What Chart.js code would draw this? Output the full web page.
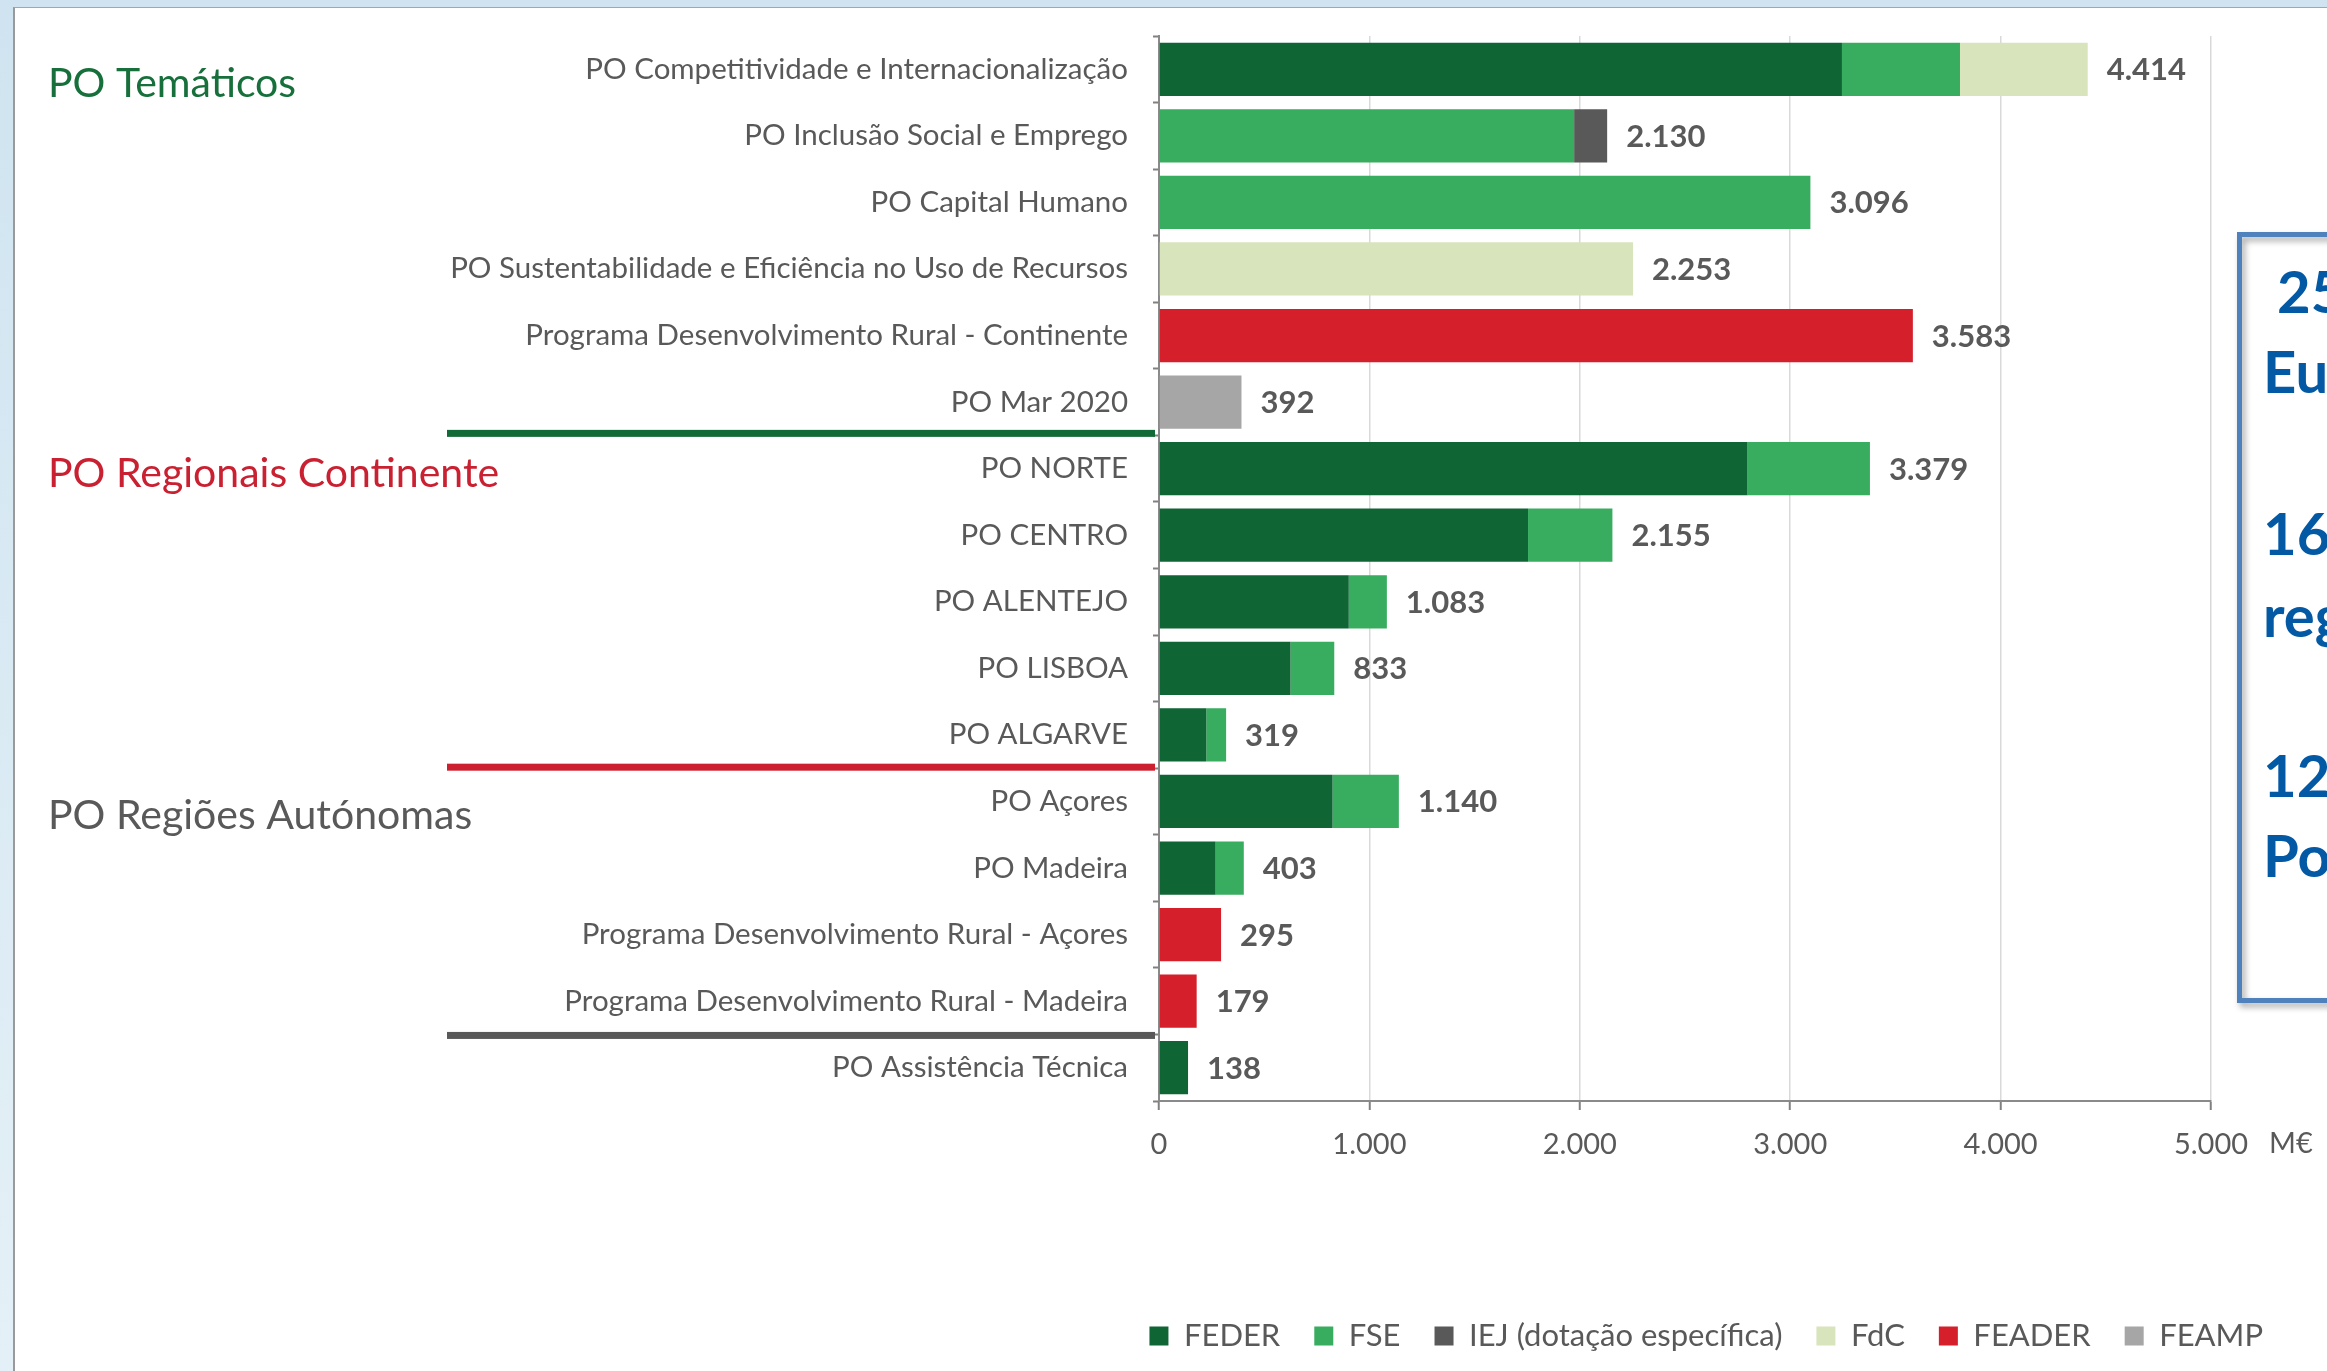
<!DOCTYPE html>
<html><head><meta charset="utf-8">
<script src="https://cdn.jsdelivr.net/npm/chart.js@4.4.1/dist/chart.umd.min.js"></script>
<style>
html,body{margin:0;padding:0;width:2327px;height:1371px;overflow:hidden;background:linear-gradient(#cfe4f0,#e4f0f7);}
#panel{position:absolute;left:13px;top:7px;right:0;bottom:0;background:#fff;border-left:2px solid #9a9a9a;border-top:1px solid #a6a6a6;}
#wrap{position:absolute;left:0;top:0;width:2327px;height:1371px;}
</style></head><body>
<div id="panel"></div>
<div id="wrap"><canvas id="c"></canvas></div>
<script>
// ---- data ----
const categories = [
  'PO Competitividade e Internacionalização',
  'PO Inclusão Social e Emprego',
  'PO Capital Humano',
  'PO Sustentabilidade e Eficiência no Uso de Recursos',
  'Programa Desenvolvimento Rural - Continente',
  'PO Mar 2020',
  'PO NORTE',
  'PO CENTRO',
  'PO ALENTEJO',
  'PO LISBOA',
  'PO ALGARVE',
  'PO Açores',
  'PO Madeira',
  'Programa Desenvolvimento Rural - Açores',
  'Programa Desenvolvimento Rural - Madeira',
  'PO Assistência Técnica'
];
const seriesNames = ['FEDER', 'FSE', 'IEJ (dotação específica)', 'FdC', 'FEADER', 'FEAMP'];
const feder  = [3246, null, null, null, null, null, 2797, 1754, 902, 625, 225, 825, 269, null, null, 138];
const fse    = [561, 1973, 3096, null, null, null, 582, 401, 181, 208, 94, 315, 134, null, null, null];
const iej    = [null, 157, null, null, null, null, null, null, null, null, null, null, null, null, null, null];
const fdc    = [607, null, null, 2253, null, null, null, null, null, null, null, null, null, null, null, null];
const feader = [null, null, null, null, 3583, null, null, null, null, null, null, null, null, 295, 179, null];
const feamp  = [null, null, null, null, null, 392, null, null, null, null, null, null, null, null, null, null];
const totals = [4414, 2130, 3096, 2253, 3583, 392, 3379, 2155, 1083, 833, 319, 1140, 403, 295, 179, 138];
const xTickLabels = ['0', '1.000', '2.000', '3.000', '4.000', '5.000'];
const groupTitles = ['PO Temáticos', 'PO Regionais Continente', 'PO Regiões Autónomas'];
const groupFirstRow = [0, 6, 11];
const separatorAfterRow = [5, 10, 14];
const boxLines = [' 25', 'Eu', '16', 'reg', '12', 'Po'];

// ---- styles ----
const FONT = 'Lato';
const GRAY = '#595959';
const seriesColors = ['#106535', '#38ad5f', '#595959', '#d8e4bc', '#d51f2a', '#a6a6a6'];
const groupColors = ['#17703b', '#c92131', '#595959'];
const groupYOffset = [14.5, 5.5, 14.5];
const sepColors = ['#126a37', '#cc1f2f', '#595959'];
const sepYOffset = [-2, -1, 1];
const boxBaselines = [313, 393, 555, 637, 797, 877];
const boxX = [2263, 2263, 2263, 2263, 2263, 2263];

const seriesData = [feder, fse, iej, fdc, feader, feamp];

function xFmt(v) {
  return String(v).replace(/\B(?=(\d{3})+(?!\d))/g, '.');
}

const overlay = {
  id: 'overlay',
  afterDatasetsDraw(chart) {
    const {ctx, scales: {x, y}} = chart;
    ctx.save();
    ctx.font = 'bold 31px ' + FONT;
    ctx.fillStyle = GRAY;
    ctx.textBaseline = 'middle';
    ctx.textAlign = 'left';
    totals.forEach((t, i) => {
      const px = x.getPixelForValue(t) + 19;
      const py = y.getPixelForValue(i);
      ctx.fillText(xFmt(t), px, py + 1);
    });
    ctx.restore();
  },
  afterDraw(chart) {
    const {ctx, scales: {x, y}} = chart;
    const band = y.getPixelForValue(1) - y.getPixelForValue(0);
    ctx.save();
    separatorAfterRow.forEach((r, k) => {
      const py = y.getPixelForValue(r) + band / 2 + sepYOffset[k];
      ctx.fillStyle = sepColors[k];
      ctx.fillRect(447, py - 3.5, 708, 7);
    });
    ctx.font = '41px ' + FONT;
    ctx.textBaseline = 'middle';
    ctx.textAlign = 'left';
    groupTitles.forEach((g, k) => {
      ctx.fillStyle = groupColors[k];
      ctx.fillText(g, 48, y.getPixelForValue(groupFirstRow[k]) + groupYOffset[k]);
    });
    ctx.font = '29px ' + FONT;
    ctx.fillStyle = GRAY;
    ctx.fillText('M€', x.right + 58, x.top + 43);
    ctx.save();
    ctx.shadowColor = 'rgba(0,0,0,0.35)';
    ctx.shadowOffsetX = 3; ctx.shadowOffsetY = 4; ctx.shadowBlur = 6;
    ctx.strokeStyle = '#4f81bd';
    ctx.lineWidth = 5;
    ctx.strokeRect(2239.5, 234.5, 300, 766);
    ctx.restore();
    ctx.font = 'bold 58px ' + FONT;
    ctx.fillStyle = '#0459a5';
    ctx.textBaseline = 'alphabetic';
    boxLines.forEach((t, k) => {
      ctx.fillText(t, boxX[k], boxBaselines[k]);
    });
    ctx.restore();
  }
};

new Chart(document.getElementById('c'), {
  type: 'bar',
  data: {
    labels: categories,
    datasets: seriesNames.map((n, k) => ({
      label: n,
      data: seriesData[k],
      backgroundColor: seriesColors[k],
      borderWidth: 0,
      categoryPercentage: 1,
      barPercentage: 0.8
    }))
  },
  options: {
    indexAxis: 'y',
    responsive: true,
    maintainAspectRatio: false,
    animation: false,
    devicePixelRatio: 1,
    layout: {padding: {left: 0, right: 30, top: 36, bottom: 9.5}},
    plugins: {
      tooltip: {enabled: false},
      legend: {
        position: 'bottom',
        align: 'end',
        labels: {
          boxWidth: 19, boxHeight: 19, padding: 34, color: GRAY,
          font: {family: FONT, size: 31}
        }
      }
    },
    scales: {
      x: {
        stacked: true, min: 0, max: 5000,
        ticks: {stepSize: 1000, color: GRAY, font: {family: FONT, size: 29}, padding: 17,
          callback: (v) => xTickLabels[Math.round(v / 1000)]},
        grid: {color: '#d9d9d9', lineWidth: 1.5, tickColor: '#808080', tickLength: 9, tickWidth: 2},
        border: {color: '#8a8a8a', width: 2},
        afterFit: (s) => { s.height = 185.5; }
      },
      y: {
        stacked: true,
        ticks: {color: GRAY, font: {family: FONT, size: 29.5, lineHeight: 0.7}, padding: 25, autoSkip: false},
        grid: {drawOnChartArea: false, tickLength: 6, tickColor: '#808080', tickWidth: 2, offset: true},
        border: {color: '#8a8a8a', width: 2},
        afterFit: (s) => { s.width = 1159; }
      },
      yRight: {
        type: 'linear', position: 'right', display: true,
        grid: {display: false}, border: {display: false}, ticks: {display: false},
        afterFit: (s) => { s.width = 86; }
      }
    }
  },
  plugins: [overlay]
});
</script>
</body></html>
